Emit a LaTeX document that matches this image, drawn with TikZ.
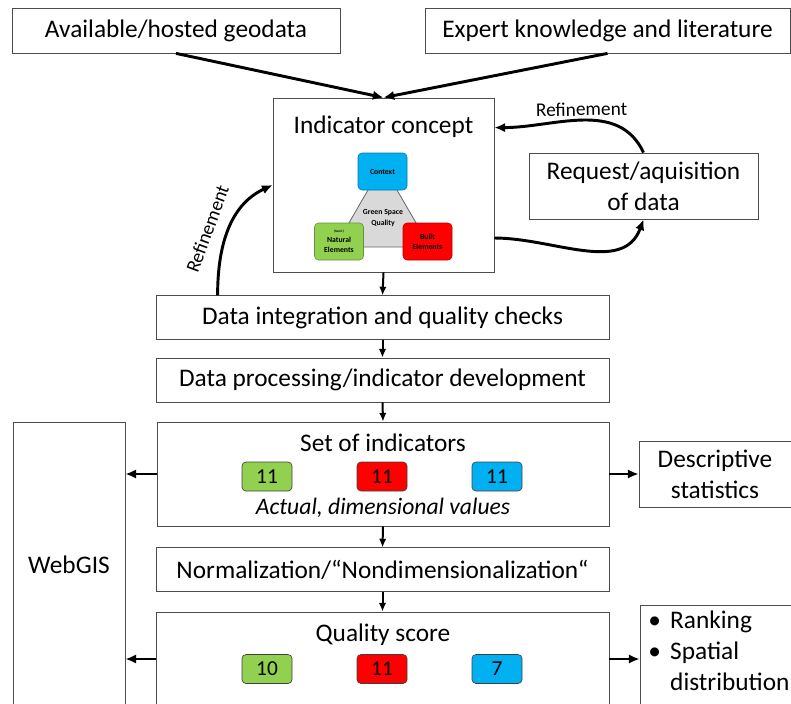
\documentclass[tikz,border=0pt]{standalone}
\usepackage{fontspec}
\setmainfont{Carlito}
\usetikzlibrary{arrows.meta,shapes}
\definecolor{natgreen}{HTML}{92D050}
\definecolor{builtred}{HTML}{FF0000}
\definecolor{ctxblue}{HTML}{00B0F0}
\definecolor{trigray}{HTML}{D9D9D9}
\tikzstyle{box}=[draw=black!70,line width=0.6pt,inner sep=0pt,align=center,font=\fontsize{19}{23}\selectfont]
\tikzstyle{wide box}=[box,minimum width=339.75pt,minimum height=32.5pt]
\tikzstyle{count}=[draw=black!75,line width=0.5pt,rounded corners=3pt,minimum width=37.5pt,minimum height=21.75pt,inner sep=0pt,font=\fontsize{16}{16}\selectfont]
\tikzstyle{element}=[draw,line width=0.4pt,rounded corners=3pt,minimum width=36.75pt,minimum height=27.75pt,inner sep=0pt,align=center,font=\bfseries\fontsize{5.8}{7.5}\selectfont]
\tikzstyle{edge}=[draw,line width=2.2pt,-{Latex[length=8pt,width=7pt]}]
\tikzstyle{flow}=[draw,line width=1.5pt,-{Latex[length=6.5pt,width=5.5pt]}]
\tikzstyle{refine}=[font=\fontsize{14.5}{15}\selectfont,inner sep=5pt]
\tikzstyle{plain}=[inner sep=0pt,align=center,font=\fontsize{19}{23}\selectfont]

\begin{document}
\begin{tikzpicture}[x=0.75pt,y=-0.75pt]
        \useasboundingbox (0,0) rectangle (791,703);
        \clip (0,0) rectangle (791,703);
        % sources
        \node[box,minimum width=246pt,minimum height=33.75pt] (avail) at (176,30.5) {Available/hosted geodata};
        \node[box,minimum width=273.75pt,minimum height=33.75pt] (expert) at (607.5,30.5) {Expert knowledge and literature};
        % indicator concept
        \node[box,minimum width=165.75pt,minimum height=130.5pt] (concept) at (383.5,185) {};
        \node[plain] (concepttitle) at (383.5,127) {Indicator concept};
        \draw[fill=trigray,draw=black!60,line width=0.6pt] (382.5,165) -- (335,247) -- (430,247) -- cycle;
        \node[plain,font=\bfseries\fontsize{5.8}{8}\selectfont] (gsq) at (383,218) {Green Space\\Quality};
        \node[element,fill=ctxblue,draw=ctxblue!70!black] (context) at (382.5,171.5) {Context};
        \node[element,fill=natgreen,draw=natgreen!70!black] (natural) at (339,241.5) {{\fontsize{2.5}{3}\selectfont (Semi-)}\\Natural\\Elements};
        \node[element,fill=builtred,draw=builtred!70!black] (built) at (427.5,241.5) {Built\\Elements};
        \node[box,minimum width=171.75pt,minimum height=49.5pt] (request) at (643.5,186) {Request/aquisition\\of data};
        % processing chain
        \node[wide box] (integ) at (382.5,317.5) {Data integration and quality checks};
        \node[wide box,minimum height=33pt] (proc) at (382.5,380) {Data processing/indicator development};
        \node[box,minimum width=339pt,minimum height=78pt] (set) at (383,474) {};
        \node[plain] (settitle) at (383,443) {Set of indicators};
        \node[count,fill=natgreen] (setnat) at (267,476.5) {11};
        \node[count,fill=builtred] (setbuilt) at (382,476.5) {11};
        \node[count,fill=ctxblue] (setctx) at (497,476.5) {11};
        \node[plain,font=\itshape\fontsize{17.7}{23}\selectfont] (setnote) at (383,508) {Actual, dimensional values};
        \node[box,minimum width=114pt,minimum height=49.5pt] (desc) at (715,474) {Descriptive\\statistics};
        \node[box,minimum width=84pt,minimum height=214.5pt] (webgis) at (69,565) {WebGIS};
        \node[wide box] (norm) at (382.5,569.5) {Normalization/“Nondimensionalization“};
        \node[box,minimum width=339.75pt,minimum height=70.5pt] (quality) at (382.5,659) {};
        \node[plain] (qualitytitle) at (383,635) {Quality score};
        \node[count,fill=natgreen] (qnat) at (267,669) {10};
        \node[count,fill=builtred] (qbuilt) at (382,669) {11};
        \node[count,fill=ctxblue] (qctx) at (497,669) {7};
        \node[box,minimum width=127.5pt,minimum height=81pt] (results) at (725,659) {};
        \node[plain,align=left,anchor=north west] (resultlist) at (648,611) {\textbullet\hspace{7pt}Ranking\\\textbullet\hspace{7pt}Spatial\\\phantom{\textbullet}\hspace{7pt}distribution};
        % connectors
        \draw[edge] (avail.south) -- (concept.north);
        \draw[edge] (expert.south) -- (concept.north);
        \draw[edge] (request.north) to[out=115,in=0] node[refine,pos=0.5,above,sloped,inner sep=2pt] {Refinement} ([yshift=-22.5pt]concept.north east);
        \draw[edge] ([yshift=-39.75pt]concept.east) to[out=0,in=-110] (request.south);
        \draw[edge] ([xshift=46.5pt]integ.north west) to[out=90,in=205] node[refine,pos=0.45,above,sloped,inner sep=9pt] {Refinement} (concept.west);
        \draw[flow] (concept.south) -- (integ.north);
        \draw[flow] (integ.south) -- (proc.north);
        \draw[flow] (proc.south) -- (set.north);
        \draw[flow] (set.south) -- (norm.north);
        \draw[flow] (norm.south) -- (quality.north);
        \draw[edge] (set.west) -- (set.west -| webgis.east);
        \draw[edge] (set.east) -- (desc.west);
        \draw[edge] (quality.west) -- (quality.west -| webgis.east);
        \draw[edge] (quality.east) -- (results.west);
      \end{tikzpicture}
\end{document}
